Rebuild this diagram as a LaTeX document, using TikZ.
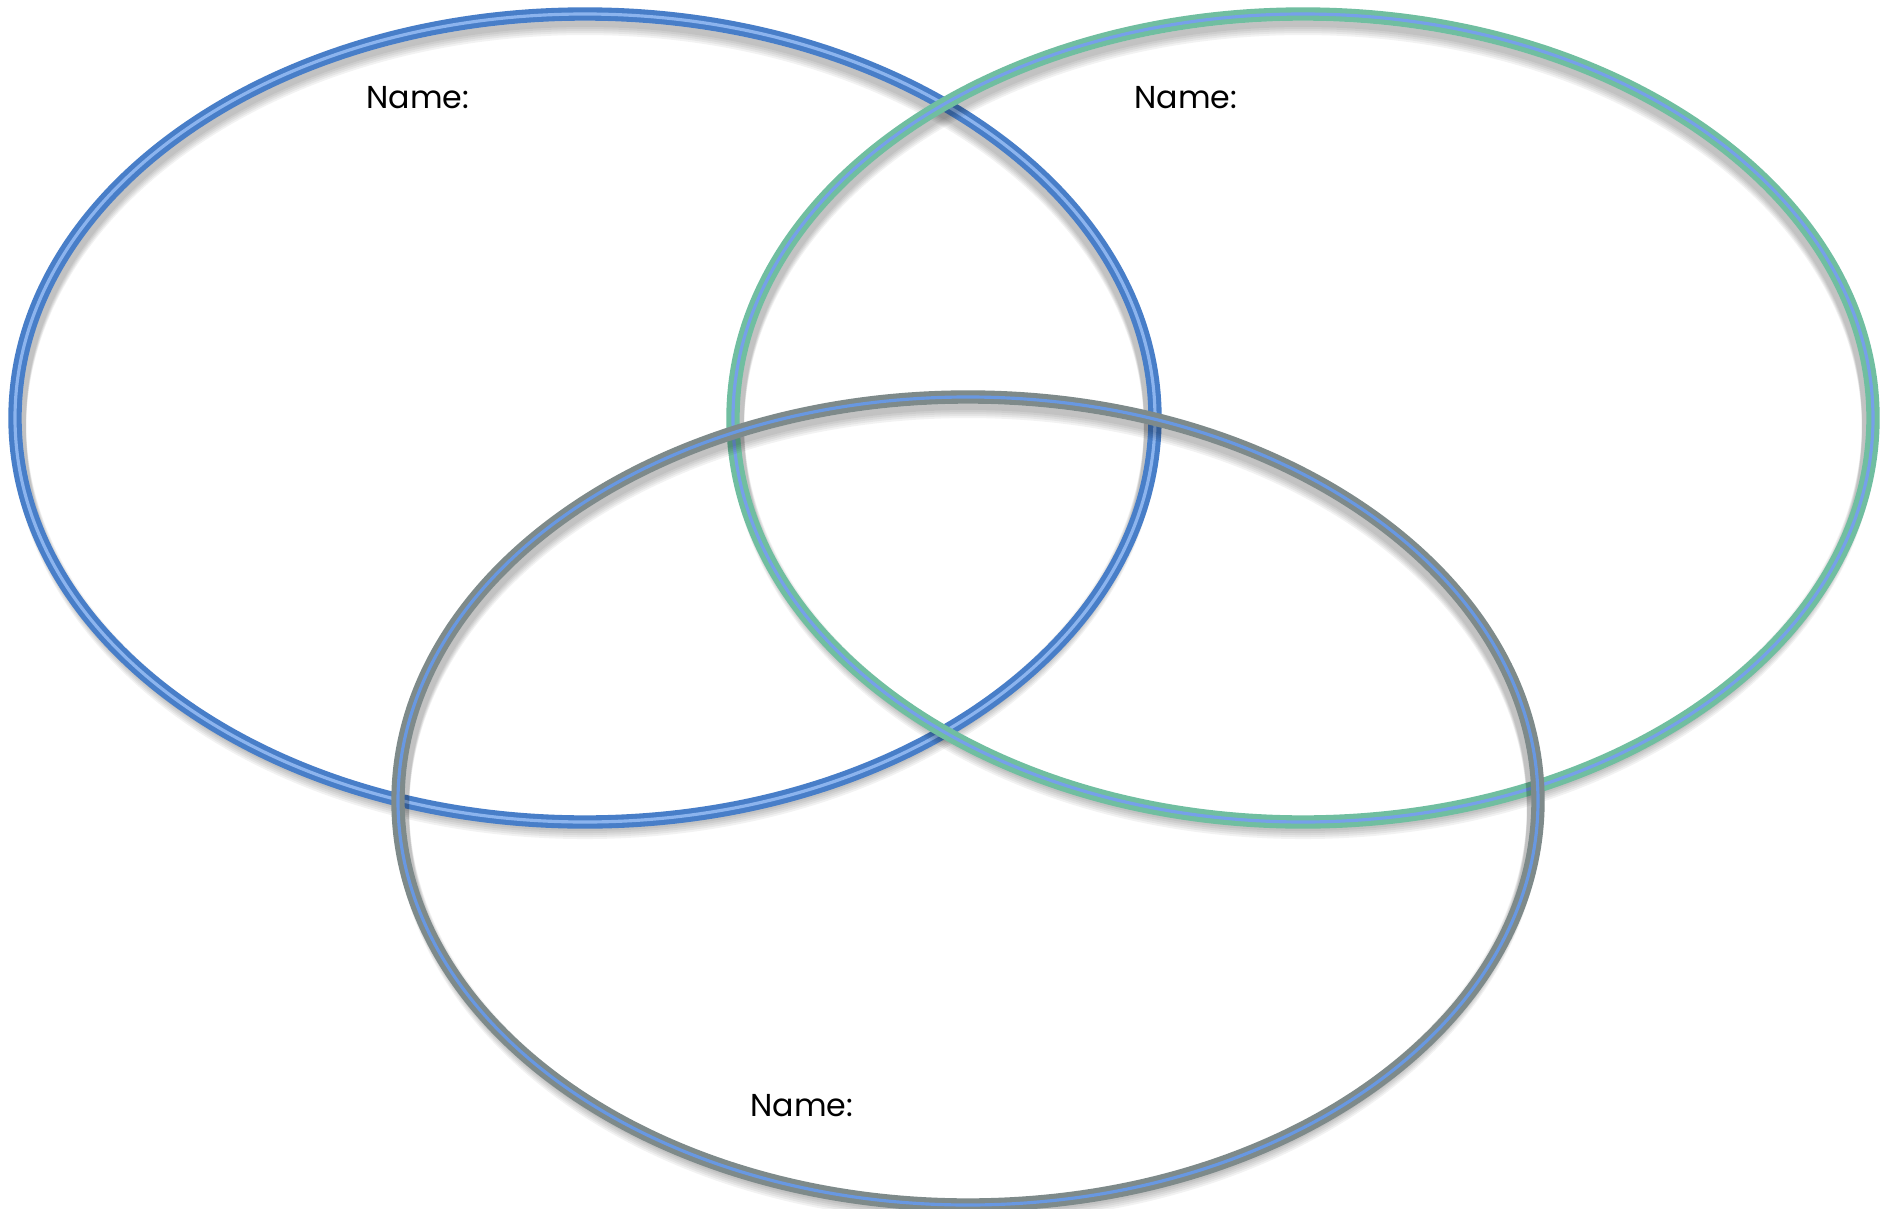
\documentclass[tikz,border=0pt]{standalone}
\usepackage{fontspec}
\setmainfont{Poppins}
\usetikzlibrary{positioning}

\definecolor{blueRing}{RGB}{72,126,200}
\definecolor{blueStripe}{RGB}{140,180,238}
\definecolor{tealRing}{RGB}{112,190,160}
\definecolor{tealStripe}{RGB}{118,160,234}
\definecolor{grayRing}{RGB}{126,138,138}
\definecolor{grayStripe}{RGB}{104,152,226}

\begin{document}
\begin{tikzpicture}[x=0.01cm, y=-0.01cm, font=\fontsize{9}{11}\selectfont,
        ring/.style={line width=3.8pt},
        stripe/.style={line width=0.9pt},
        halo/.style={draw=black, line width=4pt, opacity=0.05}]
    \useasboundingbox (0,0) rectangle (1881,1209);
    \fill[white] (0,0) rectangle (1881,1209);

    \coordinate (cLeft) at (585,418);
    \coordinate (cRight) at (1303,418);
    \coordinate (cBottom) at (968,801);

    \foreach \c/\rc/\sc in {cLeft/blueRing/blueStripe, cRight/tealRing/tealStripe, cBottom/grayRing/grayStripe}{
        \foreach \d in {4,6,8,10,12}{
            \draw[halo] ([yshift=-\d*0.01cm]\c) ellipse [x radius=566, y radius=402];
        }
        \draw[ring, draw=\rc] (\c) ellipse [x radius=570, y radius=404];
        \draw[stripe, draw=\sc] (\c) ellipse [x radius=570, y radius=404];
    }

    \node (nameLeft) at (418,98) {Name:};
    \node (nameRight) at (1186,98) {Name:};
    \node (nameBottom) at (802,1106) {Name:};
\end{tikzpicture}
\end{document}
